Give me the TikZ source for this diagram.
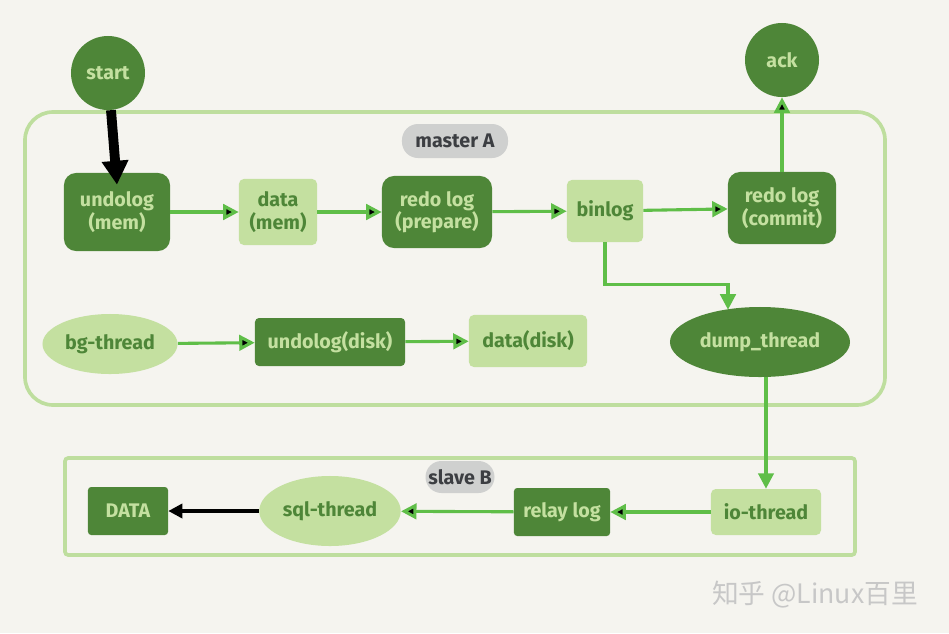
\documentclass[tikz,border=0pt]{standalone}
\usepackage{fontspec}
\setmainfont{Fira Sans}
\newfontfamily\cjk{Noto Sans CJK SC}
\usepackage{tikz}
\usetikzlibrary{calc,shapes,arrows,arrows.meta}
\definecolor{darkleaf}{RGB}{78,134,56}
\definecolor{paleleaf}{RGB}{196,224,160}
\definecolor{arrowleaf}{RGB}{95,190,72}
\definecolor{frameleaf}{RGB}{190,222,158}
\definecolor{paper}{RGB}{245,244,239}
\definecolor{tagfill}{RGB}{207,208,207}
\definecolor{tagtext}{RGB}{60,62,66}
\tikzset{
   frame/.style={draw=frameleaf, line width=2.6pt},
   flow/.style={-{Triangle[length=11pt,width=11pt]}, draw=arrowleaf, line width=2.2pt},
   blackflow/.style={-{Triangle[length=10pt,width=10pt]}, draw=black, line width=2.4pt}
}

\begin{document}
\begin{tikzpicture}[x=0.025cm,y=-0.025cm,
                    inner sep=2pt,
                    every node/.style={font=\bfseries\fontsize{14}{16}\selectfont,align=center},
                    darkbox/.style={rectangle,rounded corners=0.3cm,fill=darkleaf,text=paleleaf},
                    palebox/.style={rectangle,rounded corners=0.12cm,fill=paleleaf,text=darkleaf},
                    darkround/.style={ellipse,fill=darkleaf,text=paleleaf},
                    paleround/.style={ellipse,fill=paleleaf,text=darkleaf},
                    tag/.style={rectangle,rounded corners=0.4cm,fill=tagfill,text=tagtext}]
\useasboundingbox (0,0) rectangle (949,633);
\fill[paper] (0,0) rectangle (949,633);
%
\draw[frame,rounded corners=0.7cm] (25,112) rectangle (885,405);
\draw[frame,rounded corners=0.08cm] (65,458) rectangle (855,555);
%
\node[tag,minimum width=2.65cm,minimum height=0.85cm] (A) at (455,141) {master A};
\node[tag,minimum width=1.7cm,minimum height=0.8cm]   (B) at (460,477) {slave B};
%
\node[circle,fill=darkleaf,text=paleleaf,minimum size=1.85cm] (1) at (108,73) {start};
\node[darkbox,minimum width=2.65cm,minimum height=1.95cm] (2) at (117,212) {undolog\\(mem)};
\node[palebox,minimum width=1.95cm,minimum height=1.65cm] (3) at (278,212) {data\\(mem)};
\node[darkbox,minimum width=2.75cm,minimum height=1.8cm]  (4) at (437,212) {redo log\\(prepare)};
\node[palebox,minimum width=1.9cm,minimum height=1.55cm]  (5) at (605,211) {binlog};
\node[darkbox,minimum width=2.7cm,minimum height=1.8cm]   (6) at (782,208) {redo log\\(commit)};
\node[circle,fill=darkleaf,text=paleleaf,minimum size=1.85cm] (7) at (782,60) {ack};
%
\node[paleround,minimum width=3.0cm,minimum height=1.5cm] (8)  at (110,344) {bg-thread};
\node[darkbox,rounded corners=0.1cm,minimum width=3.75cm,minimum height=1.2cm] (9) at (330,342) {undolog(disk)};
\node[palebox,minimum width=2.95cm,minimum height=1.3cm]  (10) at (528,341) {data(disk)};
\node[darkround,minimum width=4.5cm,minimum height=1.75cm] (11) at (760,342) {dump\_thread};
%
\node[palebox,minimum width=2.75cm,minimum height=1.15cm] (12) at (766,512) {io-thread};
\node[darkbox,rounded corners=0.08cm,minimum width=2.4cm,minimum height=1.2cm] (13) at (562,512) {relay log};
\node[paleround,minimum width=2.95cm,minimum height=1.75cm] (14) at (330,511) {sql-thread};
\node[darkbox,rounded corners=0.08cm,minimum width=2.0cm,minimum height=1.2cm] (15) at (128,511) {DATA};
%
\path[flow]
  (2) edge (3)
  (3) edge (4)
  (4) edge (5)
  (5) edge (6)
  (6) edge (7)
  (8) edge (9)
  (9) edge (10)
  (12) edge (13)
  (13) edge (14)
  ;
\draw[flow] (5.south) -- ++(0,42) -| ($ (11.north) + (-32,3) $);
\draw[flow] (11.south -| 12) -- (12.north);
\path[blackflow] (14) edge (15);
\draw[-{Triangle[length=17pt,width=18pt]},line width=7pt] (1) -- ($ (2.north) + (0,12) $);
%
\node[font=\cjk\fontsize{19}{21}\selectfont,text=black!22] (W) at (815,595) {知乎 @Linux百里};
\end{tikzpicture}
\end{document}
